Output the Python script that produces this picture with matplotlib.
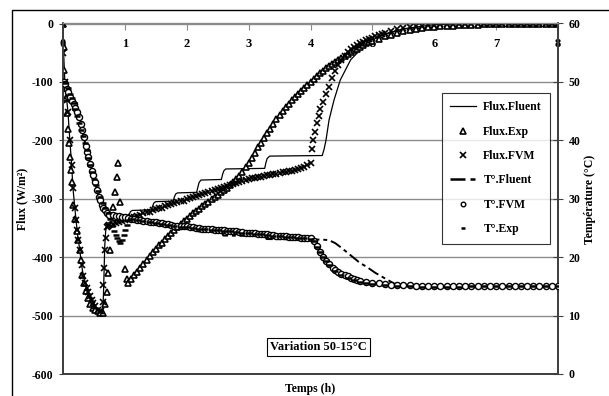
import numpy as np
import matplotlib
matplotlib.use("Agg")
import matplotlib.pyplot as plt
from matplotlib.patches import Rectangle
from matplotlib.lines import Line2D

plt.rcParams['font.family'] = ['Liberation Serif', 'DejaVu Serif']
plt.rcParams['font.weight'] = 'bold'

# ---------------- data ----------------
x_ticks = [0, 1, 2, 3, 4, 5, 6, 7, 8]
flux_ticks = [0, -100, -200, -300, -400, -500, -600]
temp_ticks = [0, 10, 20, 30, 40, 50, 60]

# Flux.Fluent (solid line)
t_flux_fluent = [0, 0.01, 0.03, 0.06, 0.08, 0.11, 0.14, 0.16, 0.21, 0.24, 0.27, 0.30, 0.33, 0.38,
                 0.44, 0.49, 0.56, 0.62, 0.645, 0.655, 0.665, 0.675, 0.69, 0.72, 0.80, 1.05,
                 1.07, 1.09, 1.12, 1.43, 1.45, 1.47, 1.50, 1.78, 1.80, 1.82, 1.85, 2.16, 2.18,
                 2.20, 2.23, 2.56, 2.58, 2.60, 2.63, 3.26, 3.28, 3.30, 3.34, 4.19, 4.22, 4.25,
                 4.30, 4.38, 4.48, 4.65, 4.85, 5.00, 5.20, 5.50, 6.00, 6.50, 8.00]
v_flux_fluent = [0, -50, -100, -131, -151, -199, -242, -281, -336, -365, -387, -413, -433, -452,
                 -467, -478, -490, -494, -490, -460, -420, -380, -355, -342, -338, -334,
                 -327, -322, -320, -319, -312, -307, -305, -304, -297, -292, -290, -289, -280,
                 -272, -268, -267, -258, -252, -249, -248, -238, -231, -227, -226, -215, -200,
                 -165, -131, -97, -62, -40, -28, -18, -9, -2, 0, 0]

# Flux.Exp (triangles)
t_flux_exp = [0, 0.01, 0.02, 0.03, 0.05, 0.06, 0.08, 0.10, 0.11, 0.13, 0.15, 0.16, 0.19, 0.22,
              0.24, 0.27, 0.29, 0.31, 0.34, 0.37, 0.40, 0.44, 0.48, 0.52, 0.56, 0.60, 0.64,
              0.68, 0.71, 0.73, 0.76, 0.81, 0.84, 0.87, 0.89, 0.92, 1.00, 1.03,
              1.05, 1.10, 1.15, 1.20, 1.25, 1.30, 1.35, 1.40, 1.45, 1.50, 1.55, 1.60, 1.65,
              1.70, 1.75, 1.80, 1.85, 1.90, 1.95, 2.00, 2.05, 2.10, 2.15, 2.20, 2.25, 2.30,
              2.35, 2.40, 2.45, 2.50, 2.55, 2.60, 2.65, 2.70, 2.75, 2.80, 2.85, 2.90, 2.95,
              3.00, 3.05, 3.10, 3.15, 3.20, 3.25, 3.30, 3.35, 3.40, 3.45, 3.50, 3.55, 3.60,
              3.65, 3.70, 3.75, 3.80, 3.85, 3.90, 3.95, 4.00, 4.05, 4.10, 4.15, 4.20, 4.25,
              4.30, 4.35, 4.40, 4.45, 4.50, 4.55, 4.60, 4.65, 4.70, 4.75, 4.80, 4.85, 4.90,
              4.95, 5.00, 5.10, 5.20, 5.30, 5.40, 5.50, 5.60, 5.70, 5.80, 5.90, 6.00, 6.10,
              6.20, 6.30, 6.40, 6.50, 6.60, 6.70, 6.80, 6.90, 7.00, 7.10, 7.20, 7.30, 7.40,
              7.50, 7.60, 7.70, 7.80, 7.90, 8.00]
v_flux_exp = [0, -40, -80, -110, -128, -153, -180, -205, -228, -250, -272, -310, -335, -355,
              -370, -387, -405, -430, -445, -458, -470, -480, -487, -490, -492, -495, -495,
              -480, -459, -427, -387, -314, -288, -262, -239, -305, -421, -437,
              -445, -438, -431, -425, -418, -411, -404, -398, -392, -386, -380, -375, -369,
              -364, -358, -353, -348, -343, -338, -334, -329, -325, -321, -317, -313, -309,
              -305, -301, -297, -293, -289, -285, -281, -277, -272, -267, -261, -254, -246,
              -238, -230, -221, -212, -204, -196, -188, -180, -172, -164, -157, -150, -143,
              -137, -131, -125, -120, -115, -110, -105, -100, -95, -90, -85, -81, -77,
              -73, -69, -66, -62, -59, -55, -52, -49, -46, -43, -40, -37, -34,
              -32, -30, -26, -22, -19, -16, -13, -11, -9, -7.5, -6.5, -5.5, -5,
              -4, -3.5, -3, -2.5, -2, -2, -1.5, -1.5, -1, -1, -1, -0.5, -0.5,
              -0.5, -0.5, 0, 0, 0, 0]

# Flux.FVM (x markers)
t_flux_fvm = [0, 0.0, 0.03, 0.06, 0.08, 0.11, 0.14, 0.16, 0.19, 0.21, 0.23, 0.25, 0.27, 0.30,
              0.33, 0.36, 0.38, 0.41, 0.44, 0.47, 0.49, 0.52, 0.56, 0.59, 0.62, 0.64, 0.65,
              0.66, 0.68, 0.69, 0.71, 0.73,
              0.75, 0.80, 0.85, 0.90, 0.95, 1.00, 1.05, 1.10, 1.15, 1.20, 1.25, 1.30, 1.35,
              1.40, 1.45, 1.50, 1.55, 1.60, 1.65, 1.70, 1.75, 1.80, 1.85, 1.90, 1.95, 2.00,
              2.05, 2.10, 2.15, 2.20, 2.25, 2.30, 2.35, 2.40, 2.45, 2.50, 2.55, 2.60, 2.65,
              2.70, 2.75, 2.80, 2.85, 2.90, 2.95, 3.00, 3.05, 3.10, 3.15, 3.20, 3.25, 3.30,
              3.35, 3.40, 3.45, 3.50, 3.55, 3.60, 3.65, 3.70, 3.75, 3.80, 3.85, 3.90, 3.95,
              4.00, 4.02, 4.04, 4.07, 4.10, 4.13, 4.16, 4.20, 4.25, 4.30, 4.35, 4.40, 4.45,
              4.50, 4.55, 4.60, 4.65, 4.70, 4.75, 4.80, 4.85, 4.90, 4.95, 5.00, 5.05, 5.10,
              5.15, 5.20, 5.30, 5.40, 5.50, 5.60, 5.70, 5.80, 5.90, 6.00, 6.10, 6.20, 6.30,
              6.40, 6.50, 6.60, 6.70, 6.80, 6.90, 7.00, 7.10, 7.20, 7.30, 7.40, 7.50, 7.60,
              7.70, 7.80, 7.90, 8.00]
v_flux_fvm = [0, -50, -100, -131, -151, -199, -242, -281, -315, -336, -353, -370, -387, -413,
              -433, -445, -452, -460, -467, -473, -478, -484, -490, -492, -493, -476, -447,
              -418, -387, -367, -349, -346,
              -345, -343, -341, -340, -338, -336, -334, -332, -331, -329, -327, -325, -323,
              -322, -320, -318, -316, -315, -313, -311, -309, -308, -306, -304, -303, -301,
              -299, -297, -296, -294, -292, -290, -288, -287, -285, -283, -281, -280, -278,
              -276, -274, -273, -271, -269, -268, -266, -265, -264, -263, -262, -261, -260,
              -259, -258, -257, -256, -255, -254, -253, -252, -250, -249, -247, -245, -242,
              -238, -215, -200, -185, -170, -158, -147, -135, -121, -108, -94, -82, -71,
              -62, -55, -49, -44, -40, -37, -34, -31, -29, -26, -24, -22, -20,
              -18, -16, -13, -10, -8, -6, -5, -4, -3, -2, -1.7, -1.4, -1.2,
              -1, -0.8, -0.7, -0.6, -0.5, -0.4, -0.3, -0.3, -0.2, -0.2, -0.1, -0.1, -0.1,
              0, 0, 0, 0]

# T°.Fluent (dashed line) - right axis
t_temp_fluent = [0, 0.03, 0.08, 0.14, 0.20, 0.26, 0.31, 0.37, 0.41, 0.47, 0.52, 0.58, 0.63,
                 0.68, 0.75, 1.06, 1.08, 1.44, 1.46, 1.79, 1.81, 2.17, 2.19, 2.57, 2.59, 3.27,
                 3.29, 4.20, 4.30, 4.40, 4.50, 4.64, 4.80, 4.90, 5.05, 5.23, 5.35, 5.50, 6.00,
                 7.00, 8.00]
v_temp_fluent = [50, 49.8, 48.2, 46.8, 45.5, 44.0, 41.8, 39.0, 37.2, 34.8, 32.8, 30.3, 29.0,
                 28.0, 27.3, 26.9, 26.4, 26.0, 25.7, 25.4, 25.1, 24.8, 24.4, 24.2, 23.7, 23.6,
                 23.1, 23.0, 22.9, 22.4, 21.6, 20.4, 19.0, 18.4, 17.3, 16.2, 15.5, 15.1, 14.8,
                 14.9, 15.0]

# T°.FVM (circles) - right axis
t_temp_fvm = [0, 0.02, 0.04, 0.06, 0.08, 0.11, 0.14, 0.17, 0.20, 0.23, 0.26, 0.29, 0.31, 0.34,
              0.37, 0.39, 0.41, 0.44, 0.47, 0.49, 0.52, 0.55, 0.58, 0.60, 0.63, 0.65, 0.68,
              0.71, 0.75, 0.80, 0.85, 0.90, 0.95, 1.00, 1.05, 1.10, 1.15, 1.20, 1.25, 1.30,
              1.35, 1.40, 1.45, 1.50, 1.55, 1.60, 1.65, 1.70, 1.75, 1.80, 1.85, 1.90, 1.95,
              2.00, 2.05, 2.10, 2.15, 2.20, 2.25, 2.30, 2.35, 2.40, 2.45, 2.50, 2.55, 2.60,
              2.65, 2.70, 2.75, 2.80, 2.85, 2.90, 2.95, 3.00, 3.05, 3.10, 3.15, 3.20, 3.25,
              3.30, 3.35, 3.40, 3.45, 3.50, 3.55, 3.60, 3.65, 3.70, 3.75, 3.80, 3.85, 3.90,
              3.95, 4.00, 4.05, 4.10, 4.15, 4.20, 4.25, 4.30, 4.36, 4.40, 4.45, 4.50, 4.55,
              4.60, 4.65, 4.70, 4.75, 4.80, 4.90, 5.00, 5.10, 5.20, 5.30, 5.40, 5.50, 5.60,
              5.70, 5.80, 5.90, 6.00, 6.10, 6.20, 6.30, 6.40, 6.50, 6.60, 6.70, 6.80, 6.90,
              7.00, 7.10, 7.20, 7.30, 7.40, 7.50, 7.60, 7.70, 7.80, 7.90, 8.00]
v_temp_fvm = [50, 50, 49.6, 48.8, 48.2, 47.4, 46.8, 46.2, 45.5, 44.9, 44.0, 42.8, 41.8, 40.5,
              39.0, 38.0, 37.2, 36.0, 34.8, 34.1, 32.8, 31.5, 30.3, 29.8, 29.0, 28.4, 28.0,
              27.6, 27.3, 27.2, 27.1, 27.0, 26.9, 26.8, 26.7, 26.6, 26.5, 26.4, 26.3, 26.2,
              26.2, 26.1, 26.0, 26.0, 25.9, 25.8, 25.7, 25.6, 25.5, 25.4, 25.4, 25.3, 25.3,
              25.3, 25.2, 25.1, 25.0, 25.0, 24.9, 24.9, 24.8, 24.8, 24.7, 24.7, 24.6, 24.6,
              24.5, 24.5, 24.4, 24.4, 24.3, 24.3, 24.2, 24.2, 24.1, 24.1, 24.0, 24.0, 23.9,
              23.9, 23.8, 23.8, 23.7, 23.7, 23.6, 23.6, 23.5, 23.5, 23.4, 23.4, 23.3, 23.3,
              23.2, 23.2, 22.8, 21.9, 20.8, 20.1, 19.4, 18.8, 18.2, 17.8, 17.4, 17.1, 16.9,
              16.7, 16.5, 16.3, 16.1, 16.0, 15.8, 15.6, 15.5, 15.4, 15.3, 15.3, 15.2, 15.2,
              15.1, 15.1, 15.1, 15.0, 15.0, 15.0, 15.0, 15.0, 15.0, 15.0, 15.0, 15.0, 15.0,
              15.0, 15.0, 15.0, 15.0, 15.0, 15.0, 15.0, 15.0, 15.0, 15.0, 15.0]

# T°.Exp (short dash markers) - right axis
t_temp_exp = [0, 0.04, 0.08, 0.11, 0.14, 0.17, 0.20, 0.23, 0.26, 0.29, 0.32, 0.35, 0.38, 0.41,
              0.44, 0.47, 0.50, 0.53, 0.56, 0.60, 0.64, 0.68, 0.72, 0.76, 0.79, 0.82, 0.85,
              0.87, 0.90, 0.92, 0.95, 0.98, 1.00, 1.03, 1.06, 1.10, 1.20, 1.30, 1.40, 1.50,
              1.60, 1.70, 1.80, 1.90, 2.00, 2.10, 2.20, 2.30, 2.40, 2.50, 2.60, 2.70, 2.80,
              2.90, 3.00, 3.10, 3.20, 3.30, 3.40, 3.50, 3.60, 3.70, 3.80, 3.90, 4.00, 4.05,
              4.10, 4.15, 4.20, 4.25, 4.30, 4.40, 4.50, 4.60, 4.70, 4.80, 4.90, 5.00, 5.20,
              5.40, 5.60, 5.80, 6.00, 6.20, 6.40, 6.60, 6.80, 7.00, 7.20, 7.40, 7.60, 7.80,
              8.00]
v_temp_exp = [50, 49.8, 48.9, 48.0, 47.2, 46.4, 45.3, 44.2, 43.0, 41.8, 40.7, 39.5, 38.3, 37.0,
              35.8, 34.6, 33.4, 32.3, 31.3, 30.3, 29.3, 28.4, 27.6, 26.6, 25.4, 24.5, 23.8,
              23.3, 22.8, 22.5, 23.0, 23.8, 24.6, 25.5, 26.3, 26.6, 26.4, 26.2, 26.0, 25.9,
              25.7, 25.5, 25.4, 25.2, 25.1, 25.0, 24.9, 24.8, 24.7, 24.6, 24.5, 24.4, 24.3,
              24.2, 24.1, 24.0, 23.9, 23.8, 23.7, 23.6, 23.5, 23.4, 23.3, 23.2, 23.1, 22.7,
              21.8, 20.8, 20.0, 19.3, 18.7, 17.7, 17.0, 16.5, 16.1, 15.8, 15.6, 15.4, 15.2,
              15.1, 15.0, 14.9, 14.9, 14.9, 14.9, 15.0, 15.0, 15.0, 15.0, 15.0, 15.0, 15.0,
              15.0]

# ---------------- styles ----------------
st_fl = dict(color='black', linewidth=0.9)
st_exp = dict(linestyle='none', marker='^', markersize=5, markerfacecolor='white',
              markeredgecolor='black', markeredgewidth=1.2)
st_fvm = dict(linestyle='none', marker='x', markersize=5, markeredgecolor='black',
              markeredgewidth=1.2)
st_tfl = dict(color='black', linewidth=1.4, dashes=(6, 2, 2, 2))
st_tfvm = dict(linestyle='none', marker='o', markersize=4.4, markerfacecolor='white',
               markeredgecolor='black', markeredgewidth=1.0)
st_texp = dict(linestyle='none', marker='_', markersize=4, markeredgecolor='black',
               markeredgewidth=1.8)

# ---------------- figure ----------------
fig = plt.figure(figsize=(6.09, 3.96), dpi=100)
ax = fig.add_axes([63/609, 1-374/396, (558-63)/609, (374-23.5)/396])
ax2 = ax.twinx()

# outer chart border (partially visible)
fig.patches.append(Rectangle((12/609, -0.1), 1.2, 1.1 - 10/396, transform=fig.transFigure,
                             fill=False, edgecolor='black', linewidth=1.0))

ax.set_xlim(0, 8)
ax.set_ylim(-600, 0)
ax2.set_ylim(0, 60)

# gridlines
for v in flux_ticks[1:-1]:
    ax.axhline(v, color='#8c8c8c', linewidth=1.0, zorder=0)

ax.plot(t_flux_fluent, v_flux_fluent, '-', zorder=3, **st_fl)
ax.plot(t_flux_exp, v_flux_exp, zorder=4, **st_exp)
ax.plot(t_flux_fvm, v_flux_fvm, zorder=4, **st_fvm)

ax2.plot(t_temp_fluent, v_temp_fluent, zorder=3, **st_tfl)
ax2.plot(t_temp_fvm, v_temp_fvm, zorder=4, **st_tfvm)
ax2.plot(t_temp_exp, v_temp_exp, zorder=4, **st_texp)

# axes styling
for a in (ax, ax2):
    a.patch.set_visible(False)
    for s in a.spines.values():
        s.set_color('#404040')
        s.set_linewidth(1.3)
    a.spines['top'].set_color('#8c8c8c')
    a.spines['top'].set_linewidth(1.0)

ax.xaxis.tick_top()
ax.set_xticks(x_ticks)
ax.set_xticklabels([str(v) for v in x_ticks], fontsize=9, fontweight='bold')
ax.tick_params(axis='x', direction='in', length=4, color='#8c8c8c', pad=-19,
               top=True, bottom=False)

ax.set_yticks(flux_ticks)
ax.set_yticklabels([str(v) for v in flux_ticks], fontsize=8.5, fontweight='bold')
ax.tick_params(axis='y', direction='out', length=3, color='#404040', pad=4)

ax2.set_yticks(temp_ticks)
ax2.set_yticklabels([str(v) for v in temp_ticks], fontsize=8.5, fontweight='bold')
ax2.tick_params(axis='y', direction='inout', length=7, color='#404040', pad=4)

fig.text(310/609, 1-389/396, 'Temps (h)', ha='center', va='center', fontsize=8.5, fontweight='bold')
fig.text(22/609, 1-199/396, 'Flux (W/m²)', ha='center', va='center', rotation=90,
         fontsize=8.5, fontweight='bold')
fig.text(590/609, 1-199/396, 'Température (°C)', ha='center', va='center', rotation=90,
         fontsize=8.5, fontweight='bold')

fig.text(318/609, 1-347/396, 'Variation 50-15°C', ha='center', va='center', fontsize=9,
         fontweight='bold',
         bbox=dict(boxstyle='square,pad=0.25', facecolor='white', edgecolor='black', linewidth=0.8))

handles = [
    Line2D([], [], **st_fl),
    Line2D([], [], **st_exp),
    Line2D([], [], **st_fvm),
    Line2D([], [], color='black', linewidth=1.8, dashes=(6, 2, 2, 2)),
    Line2D([], [], **st_tfvm),
    Line2D([], [], **st_texp),
]
labels = ['Flux.Fluent', 'Flux.Exp', 'Flux.FVM', 'T°.Fluent', 'T°.FVM', 'T°.Exp']
leg = fig.legend(handles, labels, loc='upper left', bbox_to_anchor=(442/609, 1-93/396),
                 bbox_transform=fig.transFigure, frameon=True, fancybox=False,
                 prop={'family': ['Liberation Serif'], 'weight': 'bold', 'size': 8.5},
                 labelspacing=1.05, handlelength=2.2, handletextpad=0.6, borderpad=0.7,
                 borderaxespad=0, markerscale=0.75)
leg.get_frame().set_edgecolor('black')
leg.get_frame().set_linewidth(0.8)

fig.savefig('out.png', dpi=100)
